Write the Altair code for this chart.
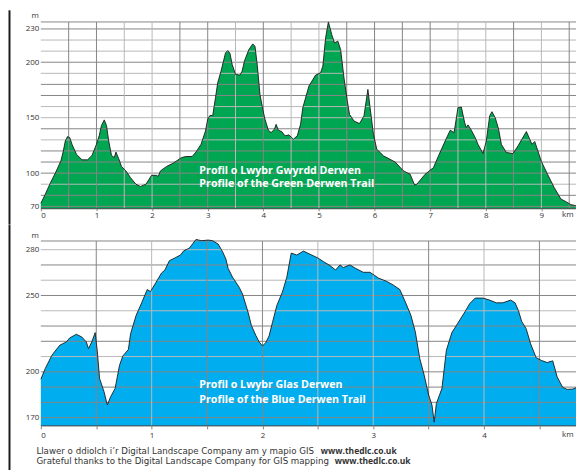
import altair as alt
import pandas as pd

# Green trail profile
green_km = [0,.08,.17,.26,.36,.40,.44,.48,.52,.56,.64,.74,.84,.92,1.0,1.05,1.09,1.14,1.18,1.22,1.27,1.32,1.35,1.40,1.45,1.53,1.61,1.71,1.79,1.89,1.99,2.08,2.11,2.15,2.26,2.38,2.53,2.61,2.72,2.79,2.88,2.96,3.0,3.04,3.09,3.14,3.18,3.24,3.32,3.36,3.40,3.44,3.50,3.58,3.62,3.66,3.74,3.81,3.85,3.89,3.94,3.99,4.03,4.09,4.14,4.20,4.23,4.27,4.33,4.39,4.46,4.54,4.61,4.67,4.71,4.82,4.94,5.03,5.07,5.12,5.17,5.23,5.28,5.34,5.39,5.45,5.51,5.55,5.63,5.73,5.81,5.88,5.92,5.98,6.04,6.16,6.37,6.52,6.64,6.72,6.76,6.91,7.06,7.15,7.27,7.36,7.43,7.50,7.56,7.62,7.65,7.68,7.74,7.81,7.86,7.95,8.01,8.07,8.11,8.17,8.23,8.28,8.37,8.49,8.58,8.73,8.79,8.83,8.88,9.0,9.11,9.23,9.35,9.44,9.53,9.62]
green_m = [72.8,81,91,100,111,119,129,133,132,126,117,112,112,116,126,134,143,148,143,129,116,114,119,113,106,102,96,90,88,90,98,98,97,102,106,109,114,115,115,119,126,138,148.6,152,152,168,181.5,192,208.4,210.5,208,198,189,188.4,192,201,211.4,216.5,214.4,198,171,157.5,148.6,138.7,136.6,139.6,144,138.7,137.5,133.6,134.5,130.6,133.6,144.1,159,178.5,188.4,190.5,196.5,222,236.3,225,217.4,219,211.4,186,165,153,147,144.7,151.6,175.5,159,135,121.6,115.6,110,102,99,89.3,90,99,105,115.6,129,138.7,136.6,159,159.6,145.6,141,143.5,138.7,132,126,117.7,129,151.6,155.4,150,139.6,126,118.6,117.7,124.6,137.5,130.6,126,128.5,110.5,99,87,76.7,74.3,71.6,70.7]

# Blue trail profile
blue_km = [0,.04,.10,.17,.23,.26,.32,.37,.41,.43,.46,.49,.51,.53,.57,.60,.63,.67,.71,.74,.79,.81,.86,.91,.96,.99,1.04,1.09,1.12,1.16,1.21,1.26,1.29,1.34,1.40,1.45,1.51,1.55,1.60,1.64,1.67,1.69,1.73,1.79,1.82,1.87,1.90,1.94,1.97,2.0,2.03,2.06,2.09,2.13,2.18,2.22,2.26,2.31,2.37,2.43,2.50,2.55,2.61,2.66,2.70,2.73,2.79,2.84,2.91,2.97,3.05,3.12,3.18,3.24,3.29,3.34,3.38,3.42,3.46,3.50,3.53,3.55,3.57,3.62,3.66,3.71,3.77,3.83,3.87,3.92,3.99,4.05,4.11,4.17,4.24,4.28,4.31,4.34,4.38,4.42,4.47,4.52,4.57,4.62,4.66,4.71,4.75,4.80,4.84]
blue_m = [195.2,202.2,210.9,217.4,219.6,222.2,224.6,222.8,219.6,215.2,219.6,225.7,213,195.7,187,178.3,183.7,189.1,204.3,210.4,214.6,225,237,245.2,253.9,252.6,258.7,264.8,266.7,272.8,274.6,276.5,279.3,281,286.7,285.9,286.3,285.9,283.7,278.7,273.9,267.8,262,255.4,251,239.1,230.4,223.9,219.6,217,219.1,223.5,232.2,243.5,252.2,262,277.8,276.5,279.1,277,274.6,272.2,269.6,266.7,270,268.3,270,267.8,265.2,265.2,261.3,259.3,256.9,253.9,245.7,237,226.1,208.7,197.8,184.8,178.3,167,179.3,189.1,214.1,225.7,232.6,239.6,244.6,248.3,248.3,247,245.2,245.2,247,245.2,240.2,233,228.3,218.5,209.3,207.4,206.1,207.2,196.7,189.8,188.5,188.7,189.8]

green_dark_y = [236.3,230,200,180,170,140,120,110,100,80,70]
green_light_y = [220,210,190,160,150,130,90]
green_dark_x = [.5,1,2.5,3,4,5.5,6,6.5,7,8.5,9.5,9.64]
green_light_x = [1.5,2,3.5,4.5,5,7.5,8,9]
blue_dark_y = [285.7,270,250,230,220,200,190,180,170]
blue_light_y = [280,260,240,210]
blue_dark_x = [.5,1.5,2,3.5,4.5,4.84]
blue_light_x = [1,2.5,3,4]

green_ticks = [230,200,150,100,70]
blue_ticks = [280,250,200,170]
green_km_ticks = [0,1,2,3,4,5,6,7,8,9]
blue_km_ticks = [0,.5,1,1.5,2,2.5,3,3.5,4,4.5]

FONT = "Open Sans"
FOOT = "DejaVu Sans"
INK = "#333333"
DARK = "#858585"
LIGHT = "#b8b8b8"


def build(km, m, fill, xdom, ydom, w, h, yticks, xticks, xtick, xpad,
          lo_y, lo_x, hi_y, hi_x, titles, extra):
    df = pd.DataFrame({"km": km, "m": m})
    xs = alt.Scale(domain=xdom, nice=False, zero=False)
    ys = alt.Scale(domain=ydom, nice=False, zero=False)
    xax = alt.Axis(values=xticks, title=None, grid=False, domain=False, tickSize=xtick,
                   tickColor=DARK, labelPadding=xpad, labelFont=FONT, labelFontSize=8,
                   labelColor=INK, labelExpr="datum.value % 1 == 0 ? format(datum.value, 'd') : ''")
    yax = alt.Axis(values=yticks, title=None, grid=False, domain=False, ticks=False,
                   labelPadding=2, labelFont=FONT, labelFontSize=8, labelColor=INK)
    X = alt.X("km:Q", scale=xs, axis=xax)
    Y = alt.Y("m:Q", scale=ys, axis=yax)
    layers = [alt.Chart(df).mark_area(color=fill, opacity=1).encode(x=X, y=Y, y2=alt.datum(ydom[0]))]
    for vals, col in ((lo_y, LIGHT), (hi_y, DARK)):
        layers.append(alt.Chart(pd.DataFrame({"m": vals})).mark_rule(color=col, strokeWidth=1).encode(y=Y))
    for vals, col in ((lo_x, LIGHT), (hi_x, DARK)):
        layers.append(alt.Chart(pd.DataFrame({"km": vals})).mark_rule(color=col, strokeWidth=1).encode(x=X))
    layers.append(alt.Chart(pd.DataFrame({"m": [ydom[0]]})).mark_rule(color="#444444", strokeWidth=1).encode(y=Y))
    layers.append(alt.Chart(df).mark_line(color="#1c1c1c", strokeWidth=0.9).encode(x=X, y=Y))
    for txt, tk, tm in titles:
        layers.append(alt.Chart(pd.DataFrame({"t": [txt], "km": [tk], "m": [tm]})).mark_text(
            font=FONT, fontSize=10.7, fontWeight="bold", color="white", align="left", baseline="middle"
        ).encode(x=X, y=Y, text="t:N"))
    return alt.layer(*layers, *extra).properties(width=w, height=h)


def label(txt, x, y, size=8, weight="normal", color=INK, align="left", font=FONT):
    return alt.Chart(pd.DataFrame({"t": [txt]})).mark_text(
        font=font, fontSize=size, fontWeight=weight, color=color, align=align, baseline="middle"
    ).encode(x=alt.value(x), y=alt.value(y), text="t:N")


def border(top, bottom):
    return alt.Chart(pd.DataFrame({"a": [0]})).mark_rule(color="#1c1c1c", strokeWidth=2).encode(
        x=alt.value(-31.5), y=alt.value(top), y2=alt.value(bottom))


W1, H1 = 538.5, 187.6
top = build(green_km, green_m, "#00a651", [0, 9.64], [67.9, 236.3], W1, H1,
            green_ticks, green_km_ticks, 2, 1,
            green_light_y, green_light_x, green_dark_y, green_dark_x,
            [("Profil o Lwybr Gwyrdd Derwen", 2.85, 102),
             ("Profile of the Green Derwen Trail", 2.85, 90.6)],
            [label("m", -9.5, -5.7),
             label("km", 535, H1 + 6.2, align="right"),
             border(-11.7, H1 + 16)])

W2, H2 = 538.6, 185.7
bottom = build(blue_km, blue_m, "#00aeef", [0, 4.84], [164.6, 285.7], W2, H2,
               blue_ticks, blue_km_ticks, 3, 3,
               blue_light_y, blue_light_x, blue_dark_y, blue_dark_x,
               [("Profil o Lwybr Glas Derwen", 1.43, 191.3),
                ("Profile of the Blue Derwen Trail", 1.43, 181.5)],
               [label("m", -9.5, -5.3),
                label("km", 535, H2 + 9, align="right"),
                label("Llawer o ddiolch i’r Digital Landscape Company am y mapio GIS", -4.5, 210.7, size=8.7, font=FOOT),
                label("www.thedlc.co.uk", 281.2, 210.7, size=8.5, weight="bold"),
                label("Grateful thanks to the Digital Landscape Company for GIS mapping", -4.5, 220.7, size=8.7, font=FOOT),
                label("www.thedlc.co.uk", 295.2, 220.7, size=8.5, weight="bold"),
                border(-16, 230)])

chart = alt.vconcat(top, bottom, spacing=32, bounds="flush").properties(
    padding={"left": 0, "top": 0, "right": -3.5, "bottom": 0}
).configure_view(stroke=None)
chart.save("out.html", embed_options={"renderer": "svg", "actions": False})
